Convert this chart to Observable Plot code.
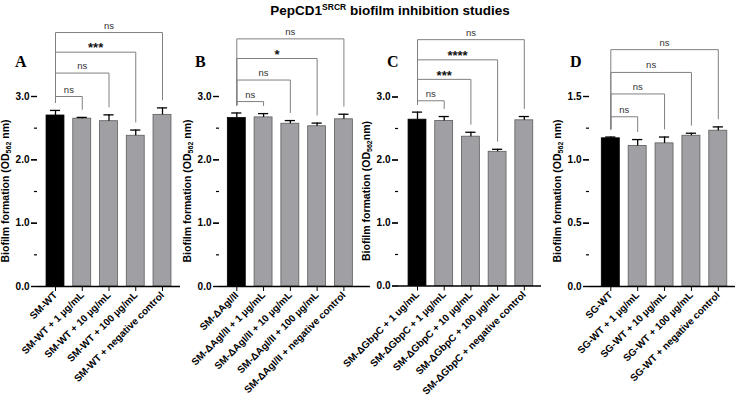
<!DOCTYPE html>
<html>
<head>
<meta charset="utf-8">
<script src="https://cdn.jsdelivr.net/npm/d3@7"></script>
<script src="https://cdn.jsdelivr.net/npm/@observablehq/plot@0.6"></script>
<style>
  body { margin: 0; background: #fff; }
  #chart { position: relative; width: 736px; height: 396px; overflow: hidden; font-family: "Liberation Sans", Arial, sans-serif; }
  .title { position: absolute; top: 3px; left: 390px; transform: translateX(-50%); font-weight: bold; font-size: 13.5px; line-height: 16px; white-space: nowrap; color: #000; }
  .title sup { font-size: 8.5px; line-height: 0; vertical-align: 5px; }
  .letter { position: absolute; top: 55px; font-family: "Liberation Serif", "Times New Roman", serif; font-weight: bold; font-size: 16px; line-height: 14px; color: #000; }
  #chart svg { position: absolute; top: 0; }
</style>
</head>
<body>
<div id="chart">
  <div class="title">PepCD1<sup>SRCR</sup> biofilm inhibition studies</div>
</div>
<script>
// ---- Group names (x tick labels) ----
const groupsA = ["SM-WT", "SM-WT + 1 µg/mL", "SM-WT + 10 µg/mL", "SM-WT + 100 µg/mL", "SM-WT + negative control"];
const groupsB = ["SM-ΔAgI/II", "SM-ΔAgI/II + 1 µg/mL", "SM-ΔAgI/II + 10 µg/mL", "SM-ΔAgI/II + 100 µg/mL", "SM-ΔAgI/II + negative control"];
const groupsC = ["SM-ΔGbpC + 1 ug/mL", "SM-ΔGbpC + 1 µg/mL", "SM-ΔGbpC + 10 µg/mL", "SM-ΔGbpC + 100 µg/mL", "SM-ΔGbpC + negative control"];
const groupsD = ["SG-WT", "SG-WT + 1 µg/mL", "SG-WT + 10 µg/mL", "SG-WT + 100 µg/mL", "SG-WT + negative control"];

// ---- Mean biofilm formation (OD562) ----
const meanA = [2.70, 2.65, 2.61, 2.38, 2.71];
const meanB = [2.66, 2.67, 2.57, 2.53, 2.64];
const meanC = [2.64, 2.62, 2.37, 2.13, 2.63];
const meanD = [1.17, 1.11, 1.13, 1.19, 1.23];

// ---- Error (upper bar) ----
const sdA = [0.08, 0.02, 0.10, 0.09, 0.11];
const sdB = [0.08, 0.06, 0.05, 0.05, 0.08];
const sdC = [0.12, 0.07, 0.07, 0.04, 0.06];
const sdD = [0.01, 0.05, 0.05, 0.02, 0.03];

// ---- Significance vs. first group (groups 2..5) ----
const sigA = ["ns", "ns", "***", "ns"];
const sigB = ["ns", "ns", "*", "ns"];
const sigC = ["ns", "***", "****", "ns"];
const sigD = ["ns", "ns", "ns", "ns"];

// ---- Y axis ticks ----
const ticksABC = [0, 1, 2, 3];
const ticksD = [0, 0.5, 1, 1.5];

// Panel layout (pixel placement on the page, bracket heights in axis units)
const panels = [
  {letter: "A", groups: groupsA, mean: meanA, sd: sdA, sig: sigA, ticks: ticksABC,
   axisX: 37, axisEnd: 180, c0: 55, c4: 162, zero: 286, top: 96, letterX: 15,
   levels: [3.0, 3.37, 3.70, 4.01], unit: " nm)"},
  {letter: "B", groups: groupsB, mean: meanB, sd: sdB, sig: sigB, ticks: ticksABC,
   axisX: 219, axisEnd: 370, c0: 236.3, c4: 343.4, zero: 286, top: 96, letterX: 195,
   levels: [2.92, 3.26, 3.60, 3.91], unit: " nm)"},
  {letter: "C", groups: groupsC, mean: meanC, sd: sdC, sig: sigC, ticks: ticksABC,
   axisX: 398, axisEnd: 541, c0: 417, c4: 523.8, zero: 285.5, top: 96.5, letterX: 387,
   levels: [2.94, 3.28, 3.59, 3.91], unit: "nm)"},
  {letter: "D", groups: groupsD, mean: meanD, sd: sdD, sig: sigD, ticks: ticksD,
   axisX: 589, axisEnd: 735, c0: 610.3, c4: 717.8, zero: 286, top: 96, letterX: 570,
   levels: [1.34, 1.52, 1.69, 1.87], unit: " nm)"}
];

const chart = document.getElementById("chart");
const ML = 37, MR = 2;

for (const p of panels) {
  const left = p.axisX - ML;
  const width = p.axisEnd - left + MR;
  const frameW = width - ML - MR;
  const yMax = p.ticks[p.ticks.length - 1];
  const step = p.ticks[1] - p.ticks[0];
  const minor = p.ticks.slice(0, -1).map(t => t + step / 2);
  const ppu = (p.zero - p.top) / yMax;       // pixels per axis unit
  const gap = 8 / ppu;                        // clearance between bracket foot and error bar

  const rows = p.groups.map((g, i) => ({i, g, mean: p.mean[i], top: p.mean[i] + p.sd[i]}));

  // Comparison brackets: first group vs. group k
  const brackets = p.sig.map((s, j) => ({k: j + 1, s, level: p.levels[j]}));
  const bracketPts = brackets.flatMap(b => [
    {k: b.k, x: 0, y: rows[0].top + gap},
    {k: b.k, x: 0, y: b.level},
    {k: b.k, x: b.k, y: b.level},
    {k: b.k, x: b.k, y: rows[b.k].top + gap}
  ]);
  const stars = brackets.filter(b => b.s !== "ns");
  const ns = brackets.filter(b => b.s === "ns");

  const svg = Plot.plot({
    width, height: 396,
    marginLeft: ML, marginRight: MR, marginTop: p.top, marginBottom: 396 - p.zero,
    style: {background: "transparent", fontFamily: "'Liberation Sans', Arial, sans-serif", fontSize: "10px", fontWeight: "bold", color: "#000", overflow: "visible"},
    x: {domain: [0, 4], range: [p.c0 - left, p.c4 - left], ticks: [0, 1, 2, 3, 4],
        tickFormat: i => p.groups[i], tickRotate: -45, tickSize: 5, tickPadding: 2, label: null},
    y: {domain: [0, yMax], range: [p.zero, p.top], ticks: p.ticks, tickFormat: ".1f",
        tickSize: 6, tickPadding: 2, label: null},
    color: {type: "identity"},
    marks: [
      Plot.rectY(rows, {x1: d => d.i - 0.335, x2: d => d.i + 0.335, y1: 0, y2: "mean",
        fill: d => d.i === 0 ? "#000000" : "#a0a0a4",
        stroke: d => d.i === 0 ? "#000000" : "#5c5c5c", strokeWidth: 0.8}),
      Plot.ruleX(rows, {x: "i", y1: "mean", y2: "top", stroke: "#000", strokeWidth: 1.3}),
      Plot.ruleY(rows, {y: "top", x1: d => d.i - 0.19, x2: d => d.i + 0.19, stroke: "#000", strokeWidth: 1.3}),
      // axis lines: bottom along zero, left from 0 to the top tick
      Plot.ruleY([0], {stroke: "#000", strokeWidth: 1.7}),
      Plot.ruleX([{lo: 0, hi: yMax}], {y1: "lo", y2: "hi", dx: -frameW / 2, stroke: "#000", strokeWidth: 1.7}),
      Plot.ruleY(p.ticks, {stroke: "#000", strokeWidth: 1.4, insetLeft: -6, insetRight: frameW}),
      Plot.ruleY(minor, {stroke: "#000", strokeWidth: 1.2, insetLeft: -3, insetRight: frameW}),
      Plot.line(bracketPts, {x: "x", y: "y", z: "k", stroke: "#808080", strokeWidth: 1, curve: "linear"}),
      Plot.text(ns, {x: d => d.k / 2, y: "level", text: "s", dy: -7, fontSize: 9.5, fontWeight: "normal", fill: "#333"}),
      Plot.text(stars, {x: d => d.k / 2, y: "level", text: "s", dy: -4, fontSize: 13, fontWeight: "bold", fill: "#111"})
    ]
  });

  svg.style.left = left + "px";
  chart.appendChild(svg);

  // Y axis title with subscript
  const t = d3.select(svg).append("text")
    .attr("transform", `translate(${ML - 31},${(p.zero + p.top) / 2}) rotate(-90)`)
    .attr("text-anchor", "middle")
    .attr("dominant-baseline", "middle")
    .attr("font-size", 10.5)
    .attr("font-weight", "bold")
    .attr("fill", "#000");
  t.append("tspan").text("Biofilm formation (OD");
  t.append("tspan").attr("font-size", 7).attr("dy", 3).text("562");
  t.append("tspan").attr("dy", -3).text(p.unit);

  // Panel letter
  const L = document.createElement("div");
  L.className = "letter";
  L.style.left = p.letterX + "px";
  L.textContent = p.letter;
  chart.appendChild(L);
}
</script>
</body>
</html>
